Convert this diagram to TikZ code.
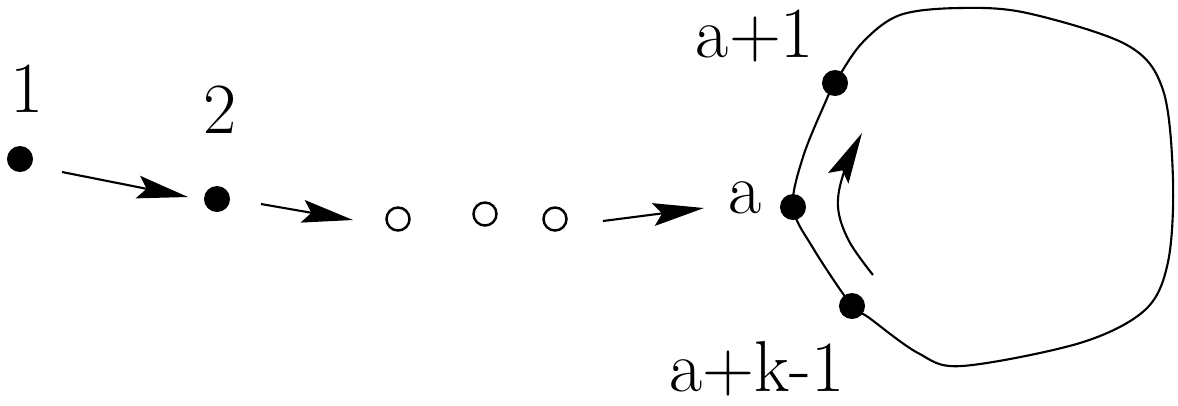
\documentclass[tikz,border=0pt]{standalone}
\usetikzlibrary{arrows.meta}
\begin{document}
\begin{tikzpicture}[x=0.01cm,y=-0.01cm,
  dot/.style={circle,fill=black,inner sep=0pt,minimum size=0.26cm},
  odot/.style={circle,draw=black,line width=0.7pt,inner sep=0pt,minimum size=0.23cm},
  lbl/.style={inner sep=0pt,font=\fontsize{20.5}{24}\selectfont},
  arr/.style={line width=0.6pt,-{Stealth[length=14.5pt,width=6.5pt,inset=2.5pt]}}]
\useasboundingbox (0,0) rectangle (1178,405);
% dots
\node[dot] (d1) at (20,159) {};
\node[dot] (d2) at (217,199) {};
\node[odot] (c1) at (398,219) {};
\node[odot] (c2) at (485,214) {};
\node[odot] (c3) at (555,219) {};
\node[dot] (da1) at (835,83) {};
\node[dot] (da) at (793,207) {};
\node[dot] (dak) at (852,306) {};
% labels
\node[lbl] (l1) at (27,89) {1};
\node[lbl] (l2) at (220,110) {2};
\node[lbl] (la1) at (755,36) {a+1};
\node[lbl] (la) at (745,198) {a};
\node[lbl] (lak) at (757,369) {a+k-1};
% arrow end points
\coordinate (s1) at (62,172);
\coordinate (e1) at (188,197);
\coordinate (s2) at (261,204);
\coordinate (e2) at (353,220);
\coordinate (s3) at (603,221);
\coordinate (e3) at (704,208);
\draw[arr] (s1) -- (e1);
\draw[arr] (s2) -- (e2);
\draw[arr] (s3) -- (e3);
% cycle
\draw[line width=0.6pt] plot[smooth cycle, tension=0.55] coordinates {
  (835,83) (862,43) (900,15) (960,8) (1027,13) (1127,45) (1163,90)
  (1173,180) (1168,262) (1145,310) (1080,343) (962,366)
  (918,353) (868,317) (852,306) (813,248) (793,207) (803,157) (825,103)};
% inner arrow
\coordinate (ia) at (873,275);
\coordinate (ib) at (862,133);
\draw[arr] plot[smooth, tension=0.6] coordinates {(ia) (849,241) (838,207) (844,172) (ib)};
\end{tikzpicture}
\end{document}
